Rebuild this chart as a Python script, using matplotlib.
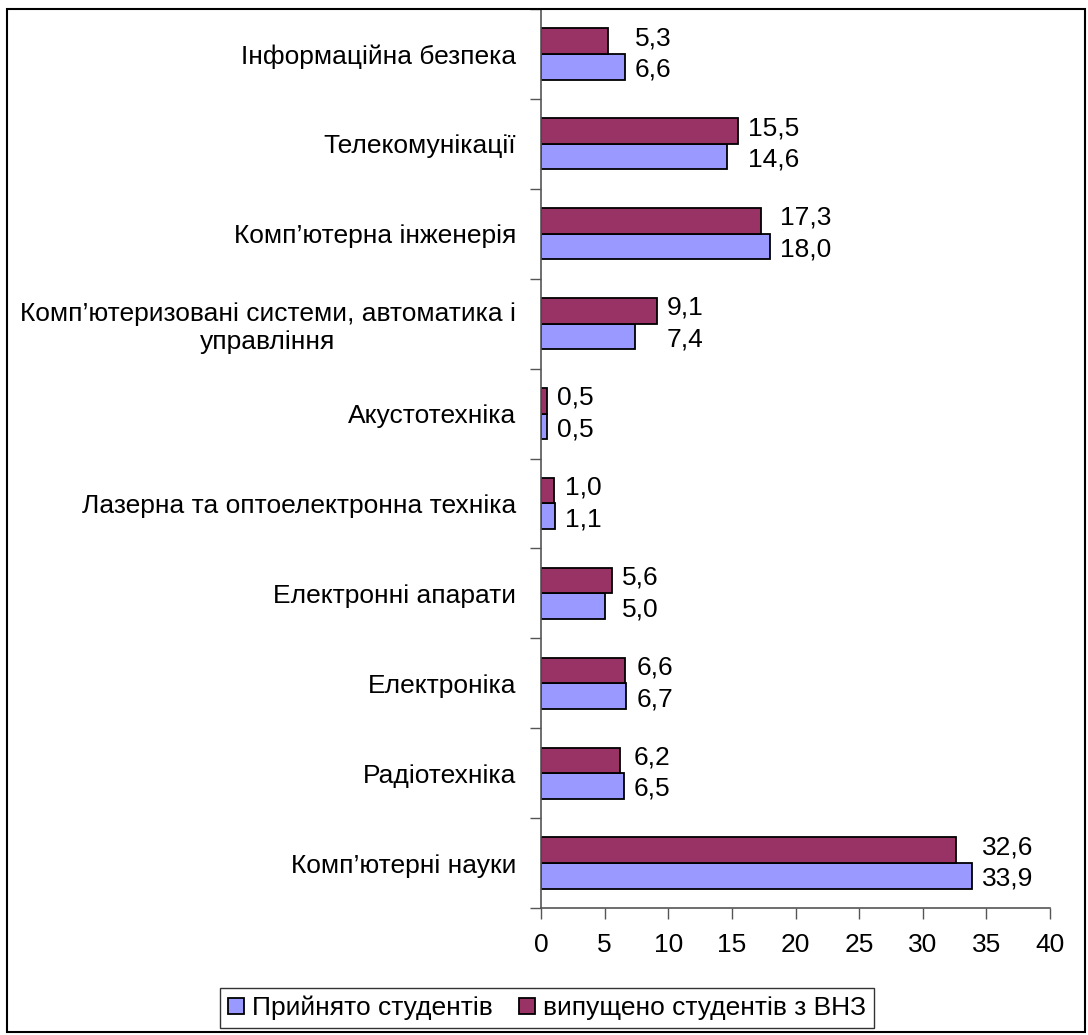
import matplotlib.pyplot as plt
from matplotlib.patches import Rectangle
import numpy as np

plt.rcParams['font.family'] = ['Liberation Sans', 'DejaVu Sans']

# categories, bottom to top
categories = [
    'Комп’ютерні науки',
    'Радіотехніка',
    'Електроніка',
    'Електронні апарати',
    'Лазерна та оптоелектронна техніка',
    'Акустотехніка',
    'Комп’ютеризовані системи, автоматика і\nуправління',
    'Комп’ютерна інженерія',
    'Телекомунікації',
    'Інформаційна безпека',
]
admitted = [33.9, 6.5, 6.7, 5.0, 1.1, 0.5, 7.4, 18.0, 14.6, 6.6]
graduated = [32.6, 6.2, 6.6, 5.6, 1.0, 0.5, 9.1, 17.3, 15.5, 5.3]
series_names = ['Прийнято студентів', 'випущено студентів з ВНЗ']
x_ticks = [0, 5, 10, 15, 20, 25, 30, 35, 40]

FS = 19
W, H = 1088, 1035

fig = plt.figure(figsize=(W / 100, H / 100), dpi=100)
ax = fig.add_axes([541 / W, 1 - 908 / H, (1050 - 541) / W, (908 - 9) / H])

# outer chart frame
fig.patches.append(Rectangle((7 / W, 1 - 1032 / H), (1085 - 7) / W, (1032 - 9) / H,
                             transform=fig.transFigure, fill=False,
                             edgecolor='black', linewidth=1.5))

y = np.arange(len(categories))
h = 0.285
b1 = ax.barh(y - h / 2, admitted, height=h, color='#9999FF', edgecolor='black',
             linewidth=1.3, label=series_names[0])
b2 = ax.barh(y + h / 2, graduated, height=h, color='#993366', edgecolor='black',
             linewidth=1.3, label=series_names[1])

def fmt(v):
    return f'{v:.1f}'.replace('.', ',')

for i in range(len(categories)):
    xm = max(admitted[i], graduated[i])
    ax.annotate(fmt(graduated[i]), (xm, y[i] + h / 2), xytext=(10, 3),
                textcoords='offset pixels', ha='left', va='center', fontsize=FS)
    ax.annotate(fmt(admitted[i]), (xm, y[i] - h / 2), xytext=(10, -3),
                textcoords='offset pixels', ha='left', va='center', fontsize=FS)

ax.set_xlim(0, 40)
ax.set_ylim(-0.5, len(categories) - 0.5)
ax.set_xticks(x_ticks)
ax.set_xticklabels([str(t) for t in x_ticks], fontsize=FS)
ax.set_yticks(y)
ax.set_yticklabels(categories, fontsize=FS, multialignment='center')
ax.set_yticks(np.arange(len(categories) + 1) - 0.5, minor=True)
ax.tick_params(axis='y', which='major', length=0, pad=18)
ax.tick_params(axis='y', which='minor', length=8, width=1, color='#555555')
ax.tick_params(axis='x', length=8, width=1, color='#555555', pad=10)

for s in ['top', 'right']:
    ax.spines[s].set_visible(False)
for s in ['left', 'bottom']:
    ax.spines[s].set_color('#555555')
    ax.spines[s].set_linewidth(1.2)

leg = fig.legend(handles=[b1, b2], loc='center', bbox_to_anchor=(547 / W, 1 - 1008 / H),
                 ncol=2, fontsize=FS, frameon=True, fancybox=False, edgecolor='black',
                 handlelength=0.6, handleheight=0.6, handletextpad=0.3, columnspacing=1.0,
                 borderpad=0.3)
leg.get_frame().set_linewidth(1.0)

fig.savefig('out.png', dpi=100)
